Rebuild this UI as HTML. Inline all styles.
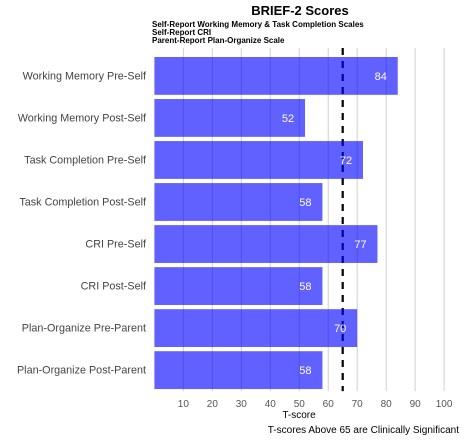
<!DOCTYPE html>
<html><head><meta charset="utf-8"><style>
body{margin:0;background:#fff;font-family:"Liberation Sans",sans-serif}
</style></head><body>
<svg id="c" width="464" height="440" xmlns="http://www.w3.org/2000/svg" font-family="Liberation Sans, sans-serif">
<text x="300" y="15" text-anchor="middle" font-size="13" font-weight="bold">BRIEF-2 Scores</text>
<text x="152" y="27" font-size="8" font-weight="bold">Self-Report Working Memory &amp; Task Completion Scales</text>
<text x="152" y="35" font-size="8" font-weight="bold">Self-Report CRI</text>
<text x="152" y="43" font-size="8" font-weight="bold">Parent-Report Plan-Organize Scale</text>
<g id="grid"></g><g id="ref"></g><g id="bars"></g><g id="yl"></g><g id="xl"></g>
<text x="299" y="418" text-anchor="middle" font-size="10">T-score</text>
<text x="459" y="433" text-anchor="end" font-size="10">T-scores Above 65 are Clinically Significant</text>
</svg>
<script>
const categories=["Working Memory Pre-Self","Working Memory Post-Self","Task Completion Pre-Self","Task Completion Post-Self","CRI Pre-Self","CRI Post-Self","Plan-Organize Pre-Parent","Plan-Organize Post-Parent"];
const scores=[84,52,72,58,77,58,70,58];
const ticks=[10,20,30,40,50,60,70,80,90,100];
const threshold=65;
const NS="http://www.w3.org/2000/svg";
const x0=154.4,k=2.897,plotTop=54.9,band=42.03,bot=plotTop+band*8;
const xs=v=>x0+v*k;
function mk(t,a,p){const e=document.createElementNS(NS,t);for(const n in a)e.setAttribute(n,a[n]);document.getElementById(p).appendChild(e);return e;}
ticks.forEach((t,i)=>{
 const g=mk('line',{x1:xs(t),x2:xs(t),y1:48,y2:bot,stroke:'#d0d0d0','stroke-width':1},'grid');
 
 
 const l=mk('text',{x:xs(t),y:407,'text-anchor':'middle','font-size':10,fill:'#555'},'xl');
 l.textContent=t;
 
 
});
const d=mk('line',{x1:xs(threshold),x2:xs(threshold),y1:48,y2:bot,stroke:'#000','stroke-width':2.2,'stroke-dasharray':'7,6'},'ref');


categories.forEach((c,i)=>{
 const y=plotTop+band*i+band*0.05,h=band*0.9;
 const r=mk('rect',{x:x0,y:y,width:scores[i]*k,height:h,fill:'rgba(0,0,255,0.62)'},'bars');
 
 
 const v=mk('text',{x:xs(scores[i])-17,y:y+h/2+4,'text-anchor':'middle','font-size':11,fill:'#fff'},'bars');
 v.textContent=scores[i];
 
 
 const l=mk('text',{x:146,y:y+h/2+3.5,'text-anchor':'end','font-size':10.8,fill:'#444'},'yl');
 l.textContent=c;
 
 
});
</script>
</body></html>
